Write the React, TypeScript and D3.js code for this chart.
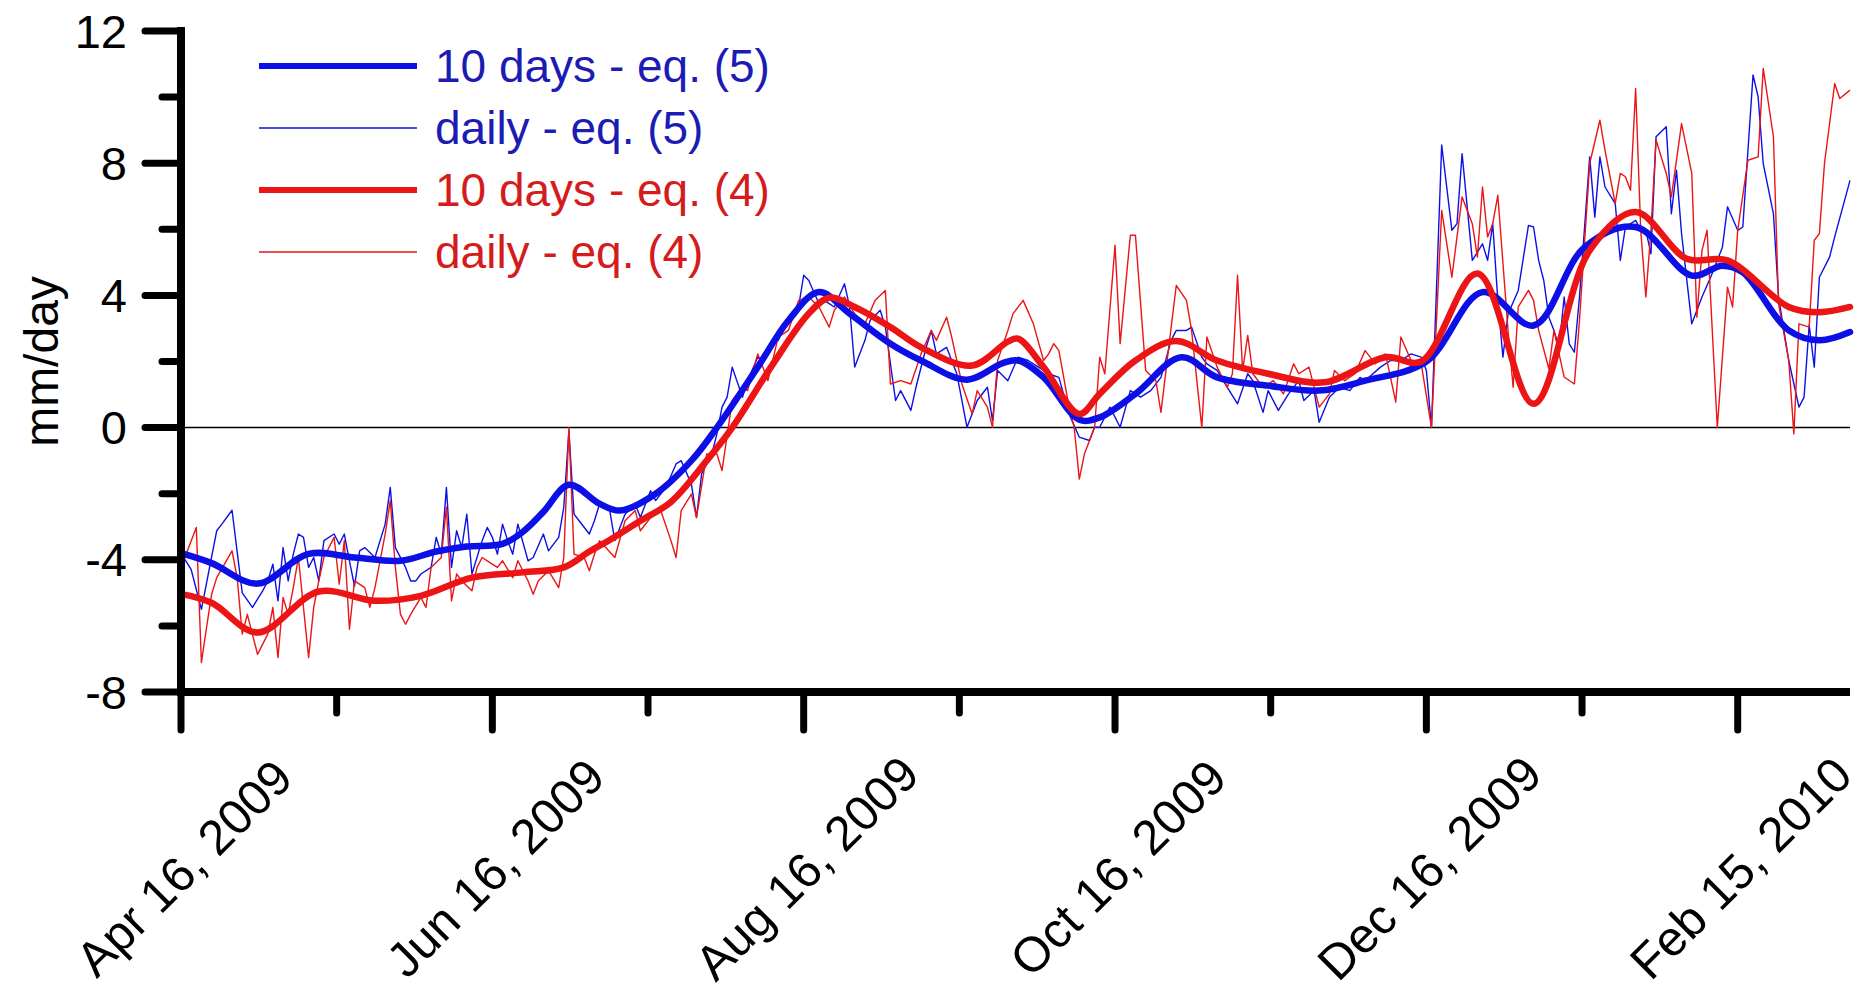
import React, { useEffect } from 'react';
import * as d3 from 'd3';

// day offsets are counted from Apr 16, 2009
const START = Date.UTC(2009, 3, 16);
const LAST_DAY = 327;

const yMajorTicks = [-8, -4, 0, 4, 8, 12];
const yMinorTicks = [-6, -2, 2, 6, 10];
const xTickDays = [0, 61, 122, 183, 244, 305];
const xTickLabels = ['Apr 16, 2009', 'Jun 16, 2009', 'Aug 16, 2009', 'Oct 16, 2009', 'Dec 16, 2009', 'Feb 15, 2010'];
const xMinorDays = [30.5, 91.5, 152.5, 213.5, 274.5];

const legendLabels = ['10 days - eq. (5)', 'daily - eq. (5)', '10 days - eq. (4)', 'daily - eq. (4)'];

// daily, eq. (5)  [day, mm/day]
const blueDaily: [number, number][] = [
  [0, -3.8], [2, -4.3], [4, -5.5], [7, -3.12], [8, -2.92], [10, -2.5], [12, -5.0], [14, -5.44], [16, -4.94], [17, -4.64],
  [18, -4.13], [19, -5.24], [20, -3.63], [21, -4.64], [22, -3.83], [23, -3.22], [24, -3.32], [25, -4.23], [26, -3.93], [27, -4.64],
  [28, -3.42], [30, -3.22], [31, -3.53], [32, -3.22], [33, -4.03], [34, -4.8], [35, -3.73], [36, -3.63], [38, -3.93], [40, -2.92],
  [41, -1.81], [42, -3.63], [44, -4.23], [45, -4.64], [46, -4.64], [47, -4.43], [49, -4.23], [50, -3.32], [51, -3.83], [52, -1.81],
  [53, -4.23], [54, -3.12], [55, -3.63], [56, -2.62], [57, -4.43], [59, -3.42], [60, -3.02], [61, -3.32], [62, -3.83], [63, -2.92],
  [64, -3.42], [65, -3.83], [66, -2.92], [68, -4.03], [69, -3.93], [71, -3.22], [72, -3.73], [74, -3.32], [75, -2.41], [76, -0.1],
  [77, -2.62], [78, -2.82], [80, -3.22], [81, -2.82], [82, -2.31], [83, -2.31], [84, -2.51], [85, -3.42], [87, -2.62], [89, -2.31],
  [90, -2.72], [92, -1.91], [93, -2.21], [95, -1.81], [97, -1.1], [98, -1.0], [100, -1.71], [101, -2.72], [102, -1.4], [104, -0.8],
  [105, -0.19], [106, 0.62], [107, 0.92], [108, 1.83], [110, 0.92], [111, 1.42], [113, 2.13], [114, 2.03], [115, 2.43], [117, 2.64],
  [118, 2.94], [119, 3.24], [121, 3.65], [122, 4.61], [123, 4.45], [125, 3.75], [126, 3.85], [127, 3.75], [128, 3.65], [130, 4.35],
  [131, 3.65], [132, 1.83], [134, 2.64], [135, 3.24], [137, 3.55], [138, 3.04], [140, 0.82], [141, 1.12], [143, 0.52], [144, 1.22],
  [146, 2.43], [147, 2.94], [148, 2.23], [150, 2.43], [152, 1.63], [154, 0.01], [156, 0.82], [158, 1.22], [159, 0.21], [160, 1.73],
  [162, 1.42], [164, 2.13], [166, 2.03], [168, 1.83], [170, 1.63], [172, 1.52], [174, 0.41], [176, -0.29], [178, -0.39], [179, 0.01],
  [180, 0.01], [182, 0.62], [184, 0.01], [186, 1.12], [188, 0.92], [190, 1.12], [192, 1.52], [194, 2.64], [195, 2.94], [197, 2.94],
  [198, 3.04], [200, 2.13], [201, 1.93], [203, 1.73], [205, 1.22], [207, 0.72], [209, 1.63], [210, 1.42], [212, 0.46], [213, 1.12],
  [215, 0.52], [217, 1.02], [219, 1.42], [220, 0.82], [222, 1.12], [223, 0.16], [225, 0.92], [227, 1.22], [229, 1.12], [231, 1.52],
  [232, 1.42], [235, 1.83], [237, 2.03], [239, 2.03], [241, 2.23], [243, 2.13], [244, 1.73], [245, 0.01], [247, 8.55], [249, 5.97],
  [250, 6.17], [251, 8.29], [253, 5.06], [255, 5.56], [256, 5.06], [257, 6.17], [258, 3.85], [259, 2.13], [260, 3.44], [262, 4.15],
  [264, 6.12], [265, 6.07], [266, 5.06], [267, 4.45], [268, 3.34], [269, 2.94], [270, 2.43], [271, 3.95], [272, 2.53], [273, 2.28],
  [274, 3.95], [276, 8.19], [277, 6.37], [278, 8.19], [279, 7.28], [281, 6.78], [282, 5.06], [283, 6.07], [285, 6.27], [286, 5.97],
  [287, 5.97], [288, 5.26], [289, 8.8], [291, 9.1], [292, 6.47], [293, 7.79], [294, 5.87], [296, 3.14], [298, 3.95], [300, 4.66],
  [302, 5.46], [303, 6.68], [305, 5.97], [306, 6.07], [308, 10.67], [309, 10.01], [310, 7.99], [312, 6.47], [313, 3.95], [315, 2.03],
  [317, 0.62], [318, 0.92], [319, 3.1], [320, 1.83], [321, 4.55], [323, 5.16], [324, 5.77], [327, 7.48],
];

// daily, eq. (4)
const redDaily: [number, number][] = [
  [0, -4.23], [3, -3.02], [4, -7.11], [5, -6.05], [6, -5.04], [7, -4.54], [10, -3.73], [11, -4.54], [12, -6.25], [13, -5.65],
  [15, -6.86], [17, -6.25], [18, -5.44], [19, -6.96], [20, -5.14], [21, -5.65], [22, -4.84], [23, -3.93], [25, -6.96], [26, -5.44],
  [27, -4.64], [28, -3.93], [30, -3.32], [31, -4.74], [32, -3.42], [33, -6.1], [34, -4.64], [36, -4.84], [37, -5.44], [38, -4.84],
  [40, -3.22], [41, -2.21], [42, -4.23], [43, -5.65], [44, -5.95], [45, -5.65], [47, -5.14], [48, -5.44], [49, -4.23], [51, -3.93],
  [52, -2.41], [53, -5.24], [54, -4.43], [55, -4.64], [57, -4.94], [58, -4.23], [59, -3.93], [60, -4.03], [62, -4.23], [63, -4.03],
  [65, -4.54], [66, -4.03], [68, -4.64], [69, -5.04], [70, -4.64], [72, -4.33], [74, -4.84], [75, -3.93], [76, 0.0], [77, -3.83],
  [79, -3.93], [80, -4.33], [81, -3.83], [82, -3.42], [85, -3.93], [87, -2.82], [89, -2.51], [90, -3.12], [92, -2.72], [94, -2.51],
  [96, -3.42], [97, -3.93], [98, -2.51], [100, -2.01], [101, -2.72], [103, -0.8], [105, -0.8], [106, -1.3], [108, 0.82], [110, 1.22],
  [111, 1.12], [113, 2.23], [115, 1.42], [117, 2.74], [119, 2.94], [121, 3.85], [123, 3.95], [125, 3.65], [127, 3.04], [128, 3.55],
  [130, 3.95], [132, 3.44], [134, 3.14], [136, 3.85], [138, 4.15], [139, 1.32], [141, 1.42], [143, 1.32], [145, 2.23], [147, 2.94],
  [148, 2.64], [150, 3.34], [151, 2.74], [153, 1.32], [155, 0.41], [156, 1.12], [158, 0.62], [159, 0.01], [160, 2.03], [162, 2.94],
  [163, 3.44], [165, 3.85], [167, 3.14], [169, 2.03], [170, 2.23], [171, 2.54], [172, 2.33], [174, 0.62], [175, 0.01], [176, -1.56],
  [177, -0.8], [179, 0.01], [180, 2.13], [181, 1.63], [183, 5.52], [184, 2.54], [186, 5.82], [187, 5.82], [189, 1.73], [191, 1.42],
  [192, 0.46], [194, 3.04], [195, 4.3], [197, 3.85], [198, 2.94], [200, 0.0], [201, 2.74], [203, 1.83], [205, 1.22], [206, 1.63],
  [207, 4.61], [208, 1.73], [209, 2.79], [210, 1.63], [212, 1.22], [214, 1.42], [216, 1.02], [218, 1.93], [219, 1.63], [221, 1.83],
  [223, 0.62], [225, 1.02], [226, 1.73], [228, 1.42], [230, 1.63], [232, 2.33], [234, 1.93], [235, 2.13], [236, 2.23], [238, 0.77],
  [239, 2.74], [241, 2.03], [243, 1.93], [245, 0.0], [247, 6.57], [249, 4.55], [251, 6.98], [253, 6.17], [254, 5.16], [255, 7.28],
  [256, 5.77], [257, 6.17], [258, 7.03], [260, 2.94], [261, 1.22], [262, 3.65], [264, 4.15], [265, 3.85], [266, 2.94], [268, 1.78],
  [269, 2.94], [271, 1.53], [273, 1.32], [274, 3.24], [276, 7.99], [278, 9.3], [279, 8.39], [281, 6.78], [282, 7.69], [283, 7.59],
  [284, 7.18], [285, 10.26], [286, 5.97], [287, 3.95], [288, 5.97], [289, 8.7], [291, 7.69], [292, 6.98], [294, 9.2], [296, 7.69],
  [297, 3.34], [298, 5.36], [299, 5.97], [301, 0.0], [303, 4.25], [304, 3.65], [305, 5.97], [307, 8.09], [309, 8.19], [310, 10.87],
  [312, 8.8], [313, 3.75], [315, 2.03], [316, -0.19], [317, 3.14], [319, 3.04], [320, 5.67], [321, 5.87], [322, 7.99], [324, 10.41],
  [325, 9.96], [327, 10.21],
];

// 10-day smoothed, eq. (5)
const blueTenDay: [number, number][] = [
  [0, -3.8], [6, -4.1], [15, -4.72], [25, -3.82], [34, -3.93], [43, -4.03], [50, -3.75], [56, -3.6], [63, -3.52], [67, -3.15],
  [71, -2.55], [76, -1.73], [82, -2.3], [86, -2.51], [93, -2.0], [100, -1.0], [105, 0.0], [113, 1.83], [119, 3.24], [125, 4.1],
  [131, 3.45], [139, 2.54], [145, 2.03], [154, 1.45], [161, 1.95], [164, 2.03], [169, 1.52], [176, 0.24], [180, 0.31], [187, 1.02],
  [196, 2.13], [203, 1.52], [213, 1.27], [223, 1.12], [232, 1.42], [244, 2.0], [255, 4.1], [265, 3.09], [275, 5.46], [285, 6.07],
  [296, 4.6], [302, 4.9], [306, 4.7], [315, 2.94], [321, 2.64], [327, 2.89],
];

// 10-day smoothed, eq. (4)
const redTenDay: [number, number][] = [
  [0, -5.03], [6, -5.3], [15, -6.2], [27, -4.96], [38, -5.24], [47, -5.09], [57, -4.54], [67, -4.38], [75, -4.23], [80, -3.75],
  [84, -3.4], [90, -2.82], [96, -2.25], [103, -1.0], [108, 0.0], [116, 1.93], [123, 3.45], [127, 3.93], [132, 3.65], [139, 3.04],
  [145, 2.43], [155, 1.88], [162, 2.6], [164, 2.69], [169, 1.83], [176, 0.41], [180, 1.02], [187, 2.03], [195, 2.62], [203, 2.03],
  [213, 1.63], [224, 1.37], [236, 2.13], [243, 2.0], [254, 4.66], [265, 0.72], [276, 5.36], [285, 6.52], [295, 5.11], [303, 5.06],
  [315, 3.65], [321, 3.49], [327, 3.65],
];

const BLUE = '#0c10e6';
const RED = '#ec1414';
const BLUE_TEXT = '#1c1cb4';
const RED_TEXT = '#d41c1c';
const FONT = '"Liberation Sans", Arial, sans-serif';

const day = (d: number) => new Date(START + d * 86400000);

export default function App() {
  useEffect(() => {
    document.body.style.margin = '0';
    document.body.style.overflow = 'hidden';
  }, []);

  const width = 1870;
  const height = 996;

  const x = d3.scaleUtc().domain([day(0), day(LAST_DAY)]).range([181, 1850]);
  const y = d3.scaleLinear().domain([-8, 12]).range([692, 31]);

  const thin = d3.line<[number, number]>()
    .x(d => x(day(d[0])))
    .y(d => y(d[1]));

  const smooth = d3.line<[number, number]>()
    .x(d => x(day(d[0])))
    .y(d => y(d[1]))
    .curve(d3.curveCatmullRom.alpha(0.5));

  const x0 = x(day(0));
  const x1 = x(day(LAST_DAY));
  const yBase = y(-8);

  const legendRows = [
    { color: BLUE, text: BLUE_TEXT, w: 6 },
    { color: BLUE, text: BLUE_TEXT, w: 1.6 },
    { color: RED, text: RED_TEXT, w: 6 },
    { color: RED, text: RED_TEXT, w: 1.6 },
  ];

  return (
    <svg width={width} height={height} style={{ display: 'block', background: '#fff' }} fontFamily={FONT}>
      {/* zero line */}
      <line x1={x0} x2={x1} y1={y(0)} y2={y(0)} stroke="#000" strokeWidth={1.5} />

      {/* series */}
      <path d={thin(blueDaily) || ''} fill="none" stroke={BLUE} strokeWidth={1.4} strokeLinejoin="round" />
      <path d={thin(redDaily) || ''} fill="none" stroke={RED} strokeWidth={1.4} strokeLinejoin="round" />
      <path d={smooth(blueTenDay) || ''} fill="none" stroke={BLUE} strokeWidth={6.5} strokeLinecap="round" />
      <path d={smooth(redTenDay) || ''} fill="none" stroke={RED} strokeWidth={6.5} strokeLinecap="round" />

      {/* y axis */}
      <line x1={x0} x2={x0} y1={y(12) - 4} y2={yBase + 4} stroke="#000" strokeWidth={8} />
      {yMajorTicks.map(t => (
        <g key={'ym' + t}>
          <line x1={x0 - 36} x2={x0} y1={y(t)} y2={y(t)} stroke="#000" strokeWidth={7} strokeLinecap="round" />
          <text x={127} y={y(t)} textAnchor="end" dominantBaseline="central" fontSize={47}>{t}</text>
        </g>
      ))}
      {yMinorTicks.map(t => (
        <line key={'yn' + t} x1={x0 - 19} x2={x0} y1={y(t)} y2={y(t)} stroke="#000" strokeWidth={7} strokeLinecap="round" />
      ))}
      <text transform={`translate(41, ${y(2)}) rotate(-90)`} textAnchor="middle" dominantBaseline="central" fontSize={48}>mm/day</text>

      {/* x axis */}
      <line x1={x0 - 4} x2={x1} y1={yBase} y2={yBase} stroke="#000" strokeWidth={8} />
      {xTickDays.map((d, i) => {
        const px = x(day(d));
        return (
          <g key={'xm' + d}>
            <line x1={px} x2={px} y1={yBase} y2={yBase + 38} stroke="#000" strokeWidth={7} strokeLinecap="round" />
            <text transform={`translate(${px + 3}, ${yBase + 176}) rotate(-45)`} textAnchor="middle" dominantBaseline="central" fontSize={49}>
              {xTickLabels[i]}
            </text>
          </g>
        );
      })}
      {xMinorDays.map(d => (
        <line key={'xn' + d} x1={x(day(d))} x2={x(day(d))} y1={yBase} y2={yBase + 21} stroke="#000" strokeWidth={7} strokeLinecap="round" />
      ))}

      {/* legend */}
      {legendLabels.map((label, i) => {
        const r = legendRows[i];
        const ly = 66 + i * 62;
        return (
          <g key={label}>
            <line x1={259} x2={417} y1={ly} y2={ly} stroke={r.color} strokeWidth={r.w} />
            <text x={435} y={ly} dominantBaseline="central" fontSize={46} fill={r.text}>{label}</text>
          </g>
        );
      })}
    </svg>
  );
}
